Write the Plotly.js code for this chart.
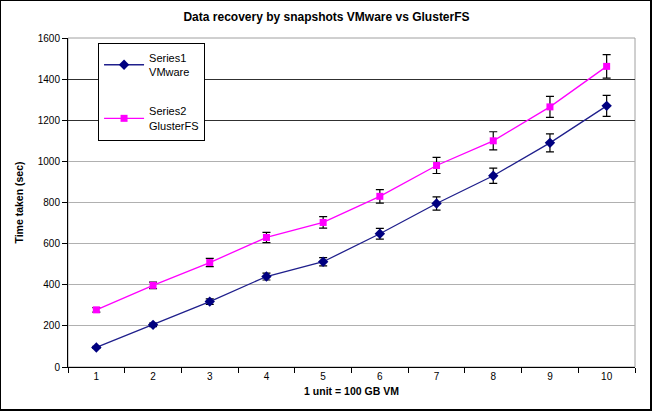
<!DOCTYPE html>
<html><head><meta charset="utf-8">
<script src="https://cdn.plot.ly/plotly-3.0.1.min.js"></script>
<style>
html,body{margin:0;padding:0;background:#fff;}
#frame{position:absolute;left:0;top:0;width:649px;height:408px;border:1px solid #000;border-right:2px solid #000;border-bottom:2px solid #000;}
#chart{position:absolute;left:0;top:0;width:653px;height:412px;}
</style></head>
<body>
<div id="chart"></div>
<div id="frame"></div>
<script>
const categories = ["1","2","3","4","5","6","7","8","9","10"];
const vmware = [95, 205, 318, 440, 512, 648, 795, 930, 1090, 1270];
const vmwareErr = [5, 9, 13, 17, 20, 26, 32, 37, 44, 51];
const gluster = [278, 397, 508, 630, 703, 830, 980, 1100, 1265, 1462];
const glusterErr = [11, 16, 20, 25, 28, 33, 39, 44, 51, 57];
const yTicks = [0, 200, 400, 600, 800, 1000, 1200, 1400, 1600];
const darkGrid = [1200, 1400];

const font = "Liberation Sans, Arial, sans-serif";
const traces = [
  {x: categories, y: vmware, name: "Series1<br>VMware", legendgroup: "a", type: "scatter", mode: "lines+markers",
   line: {color: "#1f1f8c", width: 1.3},
   marker: {symbol: "diamond", size: 8, color: "#000080"},
   error_y: {type: "data", array: vmwareErr, visible: true, color: "#000", thickness: 1.2, width: 4}},
  {x: categories, y: gluster, name: "Series2<br>GlusterFS", legendgroup: "b", type: "scatter", mode: "lines+markers",
   line: {color: "#ff00ff", width: 1.3},
   marker: {symbol: "square", size: 7, color: "#ff00ff"},
   error_y: {type: "data", array: glusterErr, visible: true, color: "#000", thickness: 1.2, width: 4}},
  {x: categories, y: darkGrid, yaxis: "y2", type: "scatter", mode: "none", showlegend: false, hoverinfo: "skip"}
];

const layout = {
  width: 653, height: 412,
  margin: {l: 68, r: 18, t: 38, b: 45},
  paper_bgcolor: "#fff", plot_bgcolor: "#fff",
  font: {family: font, size: 10, color: "#000"},
  title: {text: "<b>Data recovery by snapshots VMware vs GlusterFS</b>", font: {family: font, size: 12, color: "#000"}, x: 0.5, xanchor: "center", y: 0.97, yanchor: "top"},
  xaxis: {type: "category", range: [-0.5, 9.5], tickson: "boundaries", ticks: "outside", ticklen: 5, tickcolor: "#000",
          showline: true, linecolor: "#000", linewidth: 1, showgrid: false, zeroline: false,
          tickfont: {family: font, size: 10},
          title: {text: "<b>1 unit = 100 GB VM</b>", font: {family: font, size: 10.5}, standoff: 6}},
  yaxis: {range: [0, 1600], tickvals: yTicks, ticks: "outside", ticklen: 5, tickcolor: "#000",
          showline: true, linecolor: "#000", linewidth: 1, gridcolor: "#b0b0b0", gridwidth: 1, zeroline: false,
          tickfont: {family: font, size: 10},
          title: {text: "<b>Time taken (sec)</b>", font: {family: font, size: 10.5}, standoff: 12}},
  yaxis2: {overlaying: "y", range: [0, 1600], tickvals: darkGrid, showticklabels: false, ticks: "",
           gridcolor: "#303030", gridwidth: 1.2, zeroline: false, showline: false, layer: "below traces"},
  shapes: [{type: "rect", xref: "paper", yref: "paper", x0: 0, x1: 1, y0: 0, y1: 1,
            line: {color: "#a0a0a0", width: 1}, layer: "below"}],
  legend: {x: 0.053, y: 0.985, xanchor: "left", yanchor: "top", bgcolor: "#fff",
           bordercolor: "#000", borderwidth: 1, font: {family: font, size: 11},
           traceorder: "grouped", tracegroupgap: 22, itemwidth: 40}
};
Plotly.newPlot("chart", traces, layout, {displayModeBar: false, staticPlot: true});
</script>
</body></html>
